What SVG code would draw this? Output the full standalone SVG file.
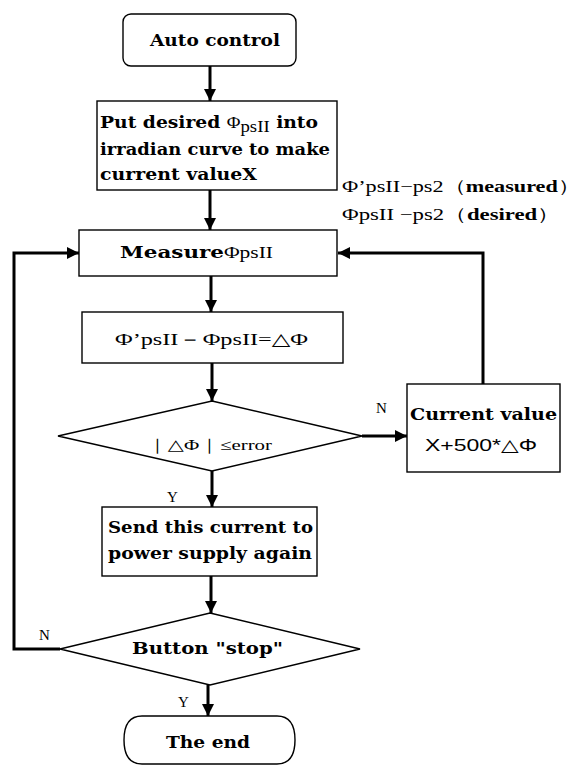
<svg xmlns="http://www.w3.org/2000/svg" width="587" height="765" viewBox="0 0 587 765">
<style>
.n{fill:#fff;stroke:#000;stroke-width:1.4}
.c{fill:none;stroke:#000;stroke-width:3}
.b{font-family:"DejaVu Serif","Liberation Serif",serif;font-weight:bold;font-size:17px;fill:#000}
.r{font-family:"Liberation Serif","DejaVu Serif",serif;font-size:17px;fill:#000}
.l{font-family:"Liberation Serif","DejaVu Serif",serif;font-size:15px;fill:#000}
.m{text-anchor:middle}
</style>
<defs>
<marker id="ah" viewBox="0 0 12 12" refX="12" refY="6" markerWidth="12" markerHeight="12" markerUnits="userSpaceOnUse" orient="auto">
<path d="M0,0 L12,6 L0,12 z" fill="#000"/>
</marker>
</defs>
<rect width="587" height="765" fill="#fff"/>
<g id="connectors">
<line class="c" x1="210" y1="66" x2="210" y2="101" marker-end="url(#ah)"/>
<line class="c" x1="210" y1="190" x2="210" y2="230" marker-end="url(#ah)"/>
<line class="c" x1="211" y1="276" x2="211" y2="312" marker-end="url(#ah)"/>
<line class="c" x1="212" y1="363" x2="212" y2="401" marker-end="url(#ah)"/>
<line class="c" x1="212" y1="471" x2="212" y2="507" marker-end="url(#ah)"/>
<line class="c" x1="211" y1="576" x2="211" y2="613" marker-end="url(#ah)"/>
<line class="c" x1="208" y1="685" x2="208" y2="716" marker-end="url(#ah)"/>
<polyline class="c" points="362,436 407,436" marker-end="url(#ah)"/>
<polyline class="c" points="483,384 483,253 338,253" marker-end="url(#ah)"/>
<polyline class="c" points="60,649 14,649 14,253 79,253" marker-end="url(#ah)"/>
</g>
<g id="start">
<rect class="n" x="123" y="14" width="173" height="52" rx="8"/>
<text class="b" x="150" y="46" font-size="18" textLength="130" lengthAdjust="spacingAndGlyphs">Auto control</text>
</g>
<g id="setcurve">
<rect class="n" x="97" y="101" width="240" height="89"/>
<text class="b" x="100" y="128" textLength="218" lengthAdjust="spacingAndGlyphs">Put desired <tspan class="r" font-weight="normal" font-size="20">Φ</tspan><tspan class="r" font-weight="normal" font-size="20" dy="4">psII</tspan><tspan dy="-4"> into</tspan></text>
<text class="b" x="100" y="155" textLength="230" lengthAdjust="spacingAndGlyphs">irradian curve to make</text>
<text class="b" x="100" y="180" textLength="157" lengthAdjust="spacingAndGlyphs">current  valueX</text>
</g>
<g id="labels">
<text class="r" x="342" y="192" font-size="18" textLength="238" lengthAdjust="spacingAndGlyphs">Φ’psII−ps2（<tspan font-weight="bold">measured</tspan>）</text>
<text class="r" x="342" y="220" font-size="18" textLength="218" lengthAdjust="spacingAndGlyphs">ΦpsII −ps2（<tspan font-weight="bold">desired</tspan>）</text>
</g>
<g id="measure">
<rect class="n" x="79" y="230" width="258" height="46"/>
<text class="b" x="120" y="258" font-size="18" textLength="153" lengthAdjust="spacingAndGlyphs">Measure<tspan class="r" font-weight="normal" font-size="20">ΦpsII</tspan></text>
</g>
<g id="delta">
<rect class="n" x="82" y="312" width="261" height="51"/>
<text class="r" x="115" y="345" textLength="193" lengthAdjust="spacingAndGlyphs">Φ’psII－ΦpsII=△Φ</text>
</g>
<g id="check">
<polygon class="n" points="212,401 362,436 212,471 58,436"/>
<text class="l" x="147" y="450" font-size="14" textLength="125" lengthAdjust="spacingAndGlyphs">｜△Φ｜≤error</text>
<text class="l" x="376" y="413">N</text>
<text class="l" x="167" y="502">Y</text>
</g>
<g id="update">
<rect class="n" x="407" y="384" width="153" height="88"/>
<text class="b" x="410" y="420" textLength="147" lengthAdjust="spacingAndGlyphs">Current value</text>
<text x="425" y="451" font-family="Liberation Sans, DejaVu Sans, sans-serif" font-size="17" textLength="112" lengthAdjust="spacingAndGlyphs">X+500*△Φ</text>
</g>
<g id="send">
<rect class="n" x="102" y="507" width="215" height="69"/>
<text class="b" x="108" y="533" textLength="205" lengthAdjust="spacingAndGlyphs">Send this current to</text>
<text class="b" x="108" y="559" textLength="204" lengthAdjust="spacingAndGlyphs">power supply again</text>
</g>
<g id="stop">
<polygon class="n" points="210,613 360,649 210,685 60,649"/>
<text class="b" x="132" y="654" textLength="151" lengthAdjust="spacingAndGlyphs">Button "stop"</text>
<text class="l" x="39" y="640">N</text>
<text class="l" x="178" y="707">Y</text>
</g>
<g id="end">
<path class="n" d="M142,716 H277 Q295,716 295,740 Q295,764 277,764 H142 Q124,764 124,740 Q124,716 142,716 Z"/>
<text class="b" x="166" y="748" textLength="84" lengthAdjust="spacingAndGlyphs">The end</text>
</g>
</svg>
